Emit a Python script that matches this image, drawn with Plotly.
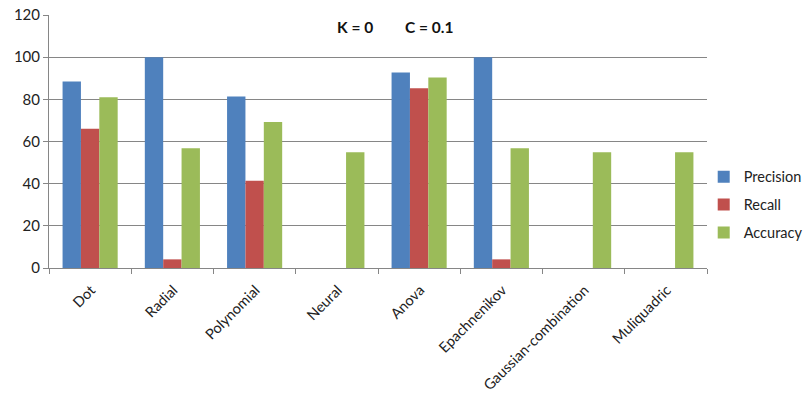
import plotly.graph_objects as go

kernels = ["Dot", "Radial", "Polynomial", "Neural", "Anova", "Epachnenikov",
           "Gaussian-combination", "Muliquadric"]
precision = [88.4, 100, 81.4, 0, 92.7, 100, 0, 0]
recall = [66.1, 4.1, 41.4, 0, 85.2, 4.1, 0, 0]
accuracy = [81.0, 56.8, 69.3, 54.9, 90.3, 56.8, 54.9, 54.9]

series = [("Precision", precision, "#4F81BD"),
          ("Recall", recall, "#C0504D"),
          ("Accuracy", accuracy, "#9BBB59")]

FONT = "Lato, Open Sans, sans-serif"

fig = go.Figure()
for name, vals, color in series:
    fig.add_trace(go.Bar(
        x=kernels, y=vals, name=name, legendgroup=name,
        marker=dict(color=color, line=dict(width=0)),
    ))

# parameter labels placed inside the top of the plot area
params = [("K = 0", 0.465), ("C = 0.1", 0.577)]
annotations = [
    dict(text=f"<b>{txt}</b>", x=px, y=0.953, xref="paper", yref="paper",
         xanchor="center", yanchor="middle", showarrow=False,
         font=dict(size=15.5, color="#111111", family=FONT))
    for txt, px in params
]

fig.update_layout(
    width=807, height=393,
    margin=dict(l=49, r=100, t=15, b=125, autoexpand=False),
    paper_bgcolor="white", plot_bgcolor="white",
    barmode="group", bargap=0.33, bargroupgap=0,
    font=dict(family=FONT, size=14, color="#222222"),
    showlegend=True,
    legend=dict(
        x=0.995, y=0.25, xanchor="left", yanchor="middle",
        font=dict(size=14.5, color="#222222"),
        traceorder="grouped", tracegroupgap=6,
        itemwidth=30, bgcolor="rgba(0,0,0,0)",
    ),
    annotations=annotations,
)

fig.update_xaxes(
    showline=True, linecolor="#868686", linewidth=1,
    ticks="outside", tickson="boundaries", ticklen=5, tickcolor="#868686",
    tickangle=-45, tickfont=dict(size=14.5), showgrid=False,
    ticklabelstandoff=7, ticklabelshift=1,
)
fig.update_yaxes(
    range=[0, 120], dtick=20, showline=True, linecolor="#868686", linewidth=1,
    ticks="outside", ticklen=5, tickcolor="#868686",
    showgrid=True, gridcolor="#868686", gridwidth=1, zeroline=False,
    tickfont=dict(size=15),
)

fig.write_html("out.html")
